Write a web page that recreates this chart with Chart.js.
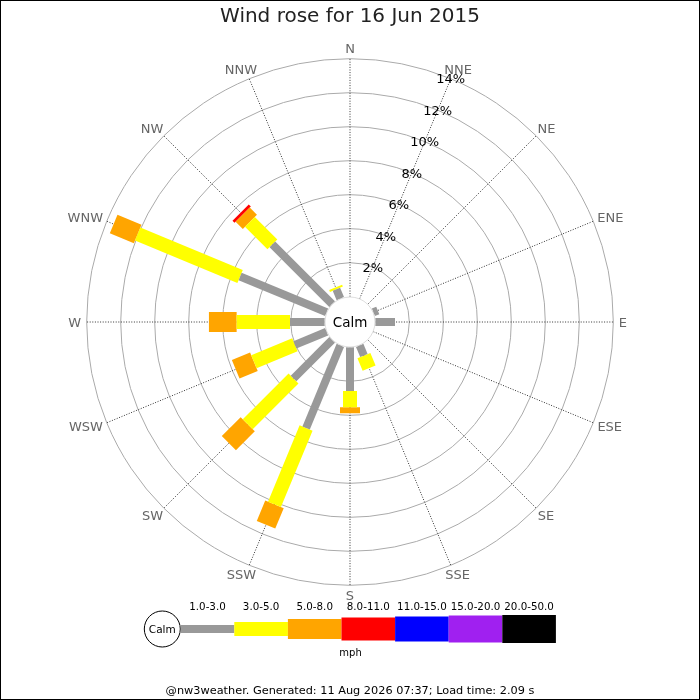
<!DOCTYPE html>
<html><head><meta charset="utf-8">
<script src="https://cdn.jsdelivr.net/npm/chart.js@4.4.0/dist/chart.umd.min.js"></script>
<style>html,body{margin:0;padding:0;background:#fff;overflow:hidden}#wrap{width:700px;height:700px;position:relative}</style>
</head><body><div id="wrap"><canvas id="c" width="700" height="700"></canvas></div>
<script>
// ---- data ----
const directions = ['N','NNE','NE','ENE','E','ESE','SE','SSE','S','SSW','SW','WSW','W','WNW','NW','NNW'];
const speedBands = ['1.0-3.0','3.0-5.0','5.0-8.0','8.0-11.0','11.0-15.0','15.0-20.0','20.0-50.0'];
const bandColors = ['#999999','#ffff00','#ffa500','#ff0000','#0000ff','#a020f0','#000000'];
const bandWidths = [8,14,20,23,25,27,28];
// percentage of observations per direction in each speed band (mph)
const band1to3   = [0,0,0,0.28,1.16,0,0,0.65,2.57,5.26,3.21,2.02,2.04,5.51,4.97,0.60];
const band3to5   = [0,0,0,0,0,0,0,0.80,0.96,4.86,3.81,2.61,3.14,6.52,1.87,0.12];
const band5to8   = [0,0,0,0,0,0,0,0,0.35,1.30,1.57,1.16,1.63,1.53,0.60,0];
const band8to11  = [0,0,0,0,0,0,0,0,0,0,0,0,0,0,0.17,0];
const band11to15 = [0,0,0,0,0,0,0,0,0,0,0,0,0,0,0,0];
const band15to20 = [0,0,0,0,0,0,0,0,0,0,0,0,0,0,0,0];
const band20to50 = [0,0,0,0,0,0,0,0,0,0,0,0,0,0,0,0];
const ringTicks  = [2,4,6,8,10,12,14];
const ringLabels = ['2%','4%','6%','8%','10%','12%','14%'];
const titleText  = 'Wind rose for 16 Jun 2015';
const footerText = '@nw3weather. Generated: 11 Aug 2026 07:37; Load time: 2.09 s';
const unitText   = 'mph';
const calmText   = 'Calm';

// ---- build ----
const bands = [band1to3,band3to5,band5to8,band8to11,band11to15,band15to20,band20to50];
const calmOffset = 25.3/17;           // inner hole expressed in % units
const maxPct = 14;
const U = calmOffset + maxPct;
const FONT = "'DejaVu Sans', sans-serif";

const datasets = [];
const cum = directions.map(()=>0);
bands.forEach((vals,b)=>{
  vals.forEach((v,d)=>{
    if (v <= 0) return;
    const th = d*22.5*Math.PI/180;
    const u0 = calmOffset + cum[d], u1 = calmOffset + cum[d] + v;
    cum[d] += v;
    datasets.push({
      type:'line',
      label: speedBands[b]+' '+directions[d],
      data:[{x:u0*Math.sin(th),y:u0*Math.cos(th)},{x:u1*Math.sin(th),y:u1*Math.cos(th)}],
      borderColor: bandColors[b],
      borderWidth: bandWidths[b],
      borderCapStyle:'butt',
      pointRadius:0, fill:false, tension:0, clip:false
    });
  });
});

function capText(ctx, txt, x, yc, size){
  ctx.textBaseline='alphabetic';
  ctx.fillText(txt, x, yc + 0.729*size/2);
}

const rosePlugin = {
  id:'rose',
  beforeDatasetsDraw(chart){
    const ctx = chart.ctx, xs = chart.scales.x, ys = chart.scales.y;
    const cx = xs.getPixelForValue(0), cy = ys.getPixelForValue(0);
    const rad = p => xs.getPixelForValue(calmOffset+p) - cx;
    ctx.save();
    ctx.strokeStyle = '#aaaaaa'; ctx.lineWidth = 1;
    ringTicks.forEach(t=>{ ctx.beginPath(); ctx.arc(cx,cy,rad(t),0,Math.PI*2); ctx.stroke(); });
    ctx.strokeStyle = '#333'; ctx.setLineDash([1,1.6]);
    directions.forEach((n,d)=>{
      const th = d*22.5*Math.PI/180;
      const r0 = rad(0), r1 = rad(maxPct);
      ctx.beginPath();
      ctx.moveTo(cx+r0*Math.sin(th), cy-r0*Math.cos(th));
      ctx.lineTo(cx+r1*Math.sin(th), cy-r1*Math.cos(th));
      ctx.stroke();
    });
    ctx.restore();
  },
  afterDatasetsDraw(chart){
    const ctx = chart.ctx, xs = chart.scales.x, ys = chart.scales.y;
    const cx = xs.getPixelForValue(0), cy = ys.getPixelForValue(0);
    const rad = p => xs.getPixelForValue(calmOffset+p) - cx;
    ctx.save();
    // calm circle
    ctx.beginPath(); ctx.arc(cx,cy,25,0,Math.PI*2);
    ctx.fillStyle='#fff'; ctx.fill(); ctx.strokeStyle='#dddddd'; ctx.lineWidth=1; ctx.stroke();
    ctx.fillStyle='#000'; ctx.font='13.5px '+FONT; ctx.textAlign='center';
    capText(ctx, calmText, cx, cy, 13.5);
    // direction labels
    const fs = 13;
    ctx.font=fs+'px '+FONT; ctx.fillStyle='#666666';
    const rOut = rad(maxPct), gap = 5.5, hh = 4.75;
    directions.forEach((n,d)=>{
      const th = d*22.5*Math.PI/180;
      const w = ctx.measureText(n).width;
      const px = cx + rOut*Math.sin(th) + Math.sin(th)*(gap + w/2);
      const py = cy - rOut*Math.cos(th) - Math.cos(th)*(gap + hh);
      capText(ctx, n, px, py, fs);
    });
    // percentage labels along NNE
    ctx.font='13px '+FONT; ctx.fillStyle='#000';
    const tl = 22.5*Math.PI/180;
    ringTicks.forEach((t,i)=>{
      const r = rad(t);
      capText(ctx, ringLabels[i], cx+r*Math.sin(tl), cy-r*Math.cos(tl), 13);
    });
    ctx.restore();
  },
  afterDraw(chart){
    const ctx = chart.ctx;
    ctx.save();
    // legend
    const lx = 162.3, ly = 629, segW = 53.6, x0 = 180.7;
    ctx.beginPath(); ctx.arc(lx,ly,18,0,Math.PI*2);
    ctx.fillStyle='#fff'; ctx.fill(); ctx.strokeStyle='#000'; ctx.lineWidth=1; ctx.stroke();
    ctx.fillStyle='#000'; ctx.font='10.5px '+FONT; ctx.textAlign='center'; ctx.textBaseline='middle';
    ctx.fillText(calmText, lx, ly+1);
    speedBands.forEach((s,b)=>{
      const h = bandWidths[b];
      ctx.fillStyle = bandColors[b];
      ctx.fillRect(x0+b*segW, ly-h/2, segW, h);
      ctx.fillStyle='#000'; ctx.font='10.3px '+FONT;
      ctx.fillText(s, x0+b*segW+segW/2, 607);
    });
    ctx.font='10px '+FONT;
    ctx.fillText(unitText, 350.5, 653.5);
    ctx.font='11.3px '+FONT;
    ctx.fillText(footerText, 350, 691.5);
    // border
    ctx.strokeStyle='#000'; ctx.lineWidth=2; ctx.strokeRect(0,0,700,700);
    ctx.restore();
  }
};

new Chart(document.getElementById('c'), {
  type:'scatter',
  data:{ datasets },
  options:{
    responsive:false, animation:false, devicePixelRatio:1,
    layout:{ padding:{ left:86.7, right:86.7, top:0, bottom:114.7 } },
    scales:{
      x:{ type:'linear', min:-U, max:U, display:false },
      y:{ type:'linear', min:-U, max:U, display:false }
    },
    plugins:{
      legend:{ display:false }, tooltip:{ enabled:false },
      title:{ display:true, text:titleText, color:'#222',
        font:{ family:FONT, size:20, weight:'normal', lineHeight:1.2 },
        padding:{ top:5, bottom:29.7 } }
    },
    elements:{ line:{ borderJoinStyle:'miter' } }
  },
  plugins:[rosePlugin]
});
</script></body></html>
